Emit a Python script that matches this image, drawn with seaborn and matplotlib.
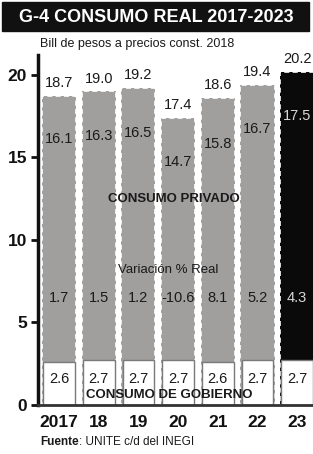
import matplotlib.pyplot as plt
import seaborn as sns
import pandas as pd
from matplotlib.patches import Rectangle

# datos (bill de pesos a precios const. 2018)
years = ["2017", "18", "19", "20", "21", "22", "23"]
total = [18.7, 19.0, 19.2, 17.4, 18.6, 19.4, 20.2]
privado = [16.1, 16.3, 16.5, 14.7, 15.8, 16.7, 17.5]
gobierno = [2.6, 2.7, 2.7, 2.7, 2.6, 2.7, 2.7]
variacion = ["1.7", "1.5", "1.2", "-10.6", "8.1", "5.2", "4.3"]

sns.set_style("white")
plt.rcParams["font.family"] = ["Liberation Sans", "DejaVu Sans"]

df = pd.DataFrame({"year": years, "total": total, "gob": gobierno})
gray = "#a19d9d"
colors = [gray] * 6 + ["#0a0a0a"]

fig = plt.figure(figsize=(3.13, 4.54), dpi=100)
ax = fig.add_axes([38 / 313, 49 / 454, 275 / 313, 350 / 454])

sns.barplot(data=df, x="year", y="total", hue="year", palette=colors,
            width=0.86, edgecolor="white", linewidth=1.2, linestyle=(0, (3, 2)),
            legend=False, ax=ax)
sns.barplot(data=df, x="year", y="gob", color="white", width=0.80,
            edgecolor="#7a7a7a", linewidth=1.0, ax=ax)

for i in range(len(years)):
    last = i == len(years) - 1
    txt = "#d8d8d8" if last else "#1a1a1a"
    ax.text(i, total[i] + 0.35, f"{total[i]:.1f}", ha="center", va="bottom",
            fontsize=10.5, color="#1a1a1a", clip_on=False)
    ax.text(i, privado[i], f"{privado[i]:.1f}", ha="center", va="center",
            fontsize=10.5, color=txt)
    ax.text(i, 6.5, variacion[i], ha="center", va="center", fontsize=10.5, color=txt)
    ax.text(i, 1.6, f"{gobierno[i]:.1f}", ha="center", va="center",
            fontsize=10.5, color="#1a1a1a")

ax.text(2.9, 12.5, "CONSUMO PRIVADO", ha="center", va="center",
        fontsize=9.5, fontweight="bold", color="#1a1a1a")
ax.text(2.75, 8.2, "Variación % Real", ha="center", va="center",
        fontsize=9.5, color="#1a1a1a")
ax.text(2.77, 0.6, "CONSUMO DE GOBIERNO", ha="center", va="center",
        fontsize=9.5, fontweight="bold", color="#1a1a1a")

ax.set_xlim(-0.53, 6.4)
ax.set_ylim(0, 21.2)
ax.set_yticks([0, 5, 10, 15, 20])
ax.set_xlabel("")
ax.set_ylabel("")
for lab in ax.get_xticklabels() + ax.get_yticklabels():
    lab.set_fontweight("bold")
    lab.set_fontsize(12.5)
    lab.set_color("#111111")
ax.tick_params(axis="y", left=True, length=5, width=2, pad=3, color="#111111")
ax.tick_params(axis="x", bottom=False, pad=4)
sns.despine(ax=ax, top=True, right=True)
ax.spines["left"].set_linewidth(2.5)
ax.spines["left"].set_color("#111111")
ax.spines["bottom"].set_linewidth(2)
ax.spines["bottom"].set_color("#333333")

# titulo
fig.patches.append(Rectangle((2 / 313, 1 - 31 / 454), 307 / 313, 29 / 454,
                             transform=fig.transFigure, color="#111111", zorder=0))
fig.text(0.5, 1 - 17 / 454, "G-4 CONSUMO REAL 2017-2023", ha="center", va="center",
         fontsize=13, fontweight="bold", color="white")
fig.text(40 / 313, 1 - 44 / 454, "Bill de pesos a precios const. 2018", ha="left",
         va="center", fontsize=9, color="#1a1a1a")
src_y = 1 - 445 / 454
src = fig.text(40 / 313, src_y, "Fuente", ha="left", va="baseline",
               fontsize=8.5, fontweight="bold", color="#1a1a1a")
fig.text(0, 0, ": UNITE c/d del INEGI", fontsize=8.5, color="#1a1a1a",
         ha="left", va="baseline", transform=src.get_transform())
fig.canvas.draw()
bb = src.get_window_extent().transformed(fig.transFigure.inverted())
fig.texts[-1].set_position((bb.x1, src_y))

fig.savefig("out.png", dpi=100)
